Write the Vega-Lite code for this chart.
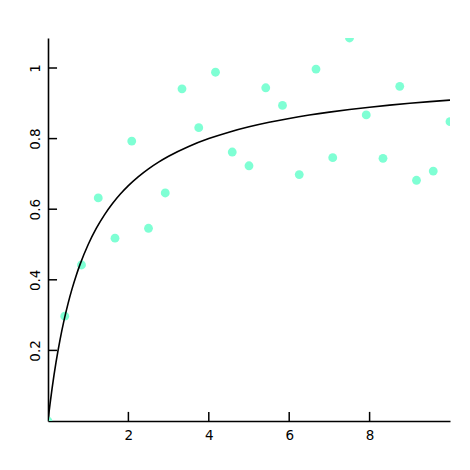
{
  "$schema": "https://vega.github.io/schema/vega-lite/v6.json",
  "width": 402,
  "height": 383,
  "autosize": "none",
  "padding": {"left": 48, "top": 38, "right": 20, "bottom": 49},
  "background": "white",
  "config": {
    "view": {"stroke": null},
    "font": "DejaVu Sans",
    "axis": {
      "domainColor": "black",
      "domainWidth": 1.6,
      "ticks": false,
      "grid": false,
      "labelColor": "black",
      "labelFont": "DejaVu Sans",
      "labelFontSize": 13.5,
      "title": null
    }
  },
  "datasets": {
    "pts": [
      {"x": 0.0, "y": 0.0},
      {"x": 0.4167, "y": 0.297},
      {"x": 0.8333, "y": 0.442},
      {"x": 1.25, "y": 0.632},
      {"x": 1.6667, "y": 0.518},
      {"x": 2.0833, "y": 0.793},
      {"x": 2.5, "y": 0.546},
      {"x": 2.9167, "y": 0.646},
      {"x": 3.3333, "y": 0.941},
      {"x": 3.75, "y": 0.831},
      {"x": 4.1667, "y": 0.988},
      {"x": 4.5833, "y": 0.762},
      {"x": 5.0, "y": 0.723},
      {"x": 5.4167, "y": 0.944},
      {"x": 5.8333, "y": 0.894},
      {"x": 6.25, "y": 0.698},
      {"x": 6.6667, "y": 0.997},
      {"x": 7.0833, "y": 0.746},
      {"x": 7.5, "y": 1.085},
      {"x": 7.9167, "y": 0.867},
      {"x": 8.3333, "y": 0.744},
      {"x": 8.75, "y": 0.948},
      {"x": 9.1667, "y": 0.682},
      {"x": 9.5833, "y": 0.708},
      {"x": 10.0, "y": 0.848}
    ],
    "curve": [
      {"x": 0, "y": 0},
      {"x": 0.025, "y": 0.02439},
      {"x": 0.05, "y": 0.04762},
      {"x": 0.1, "y": 0.09091},
      {"x": 0.15, "y": 0.13043},
      {"x": 0.2, "y": 0.16667},
      {"x": 0.3, "y": 0.23077},
      {"x": 0.4, "y": 0.28571},
      {"x": 0.5, "y": 0.33333},
      {"x": 0.6, "y": 0.375},
      {"x": 0.7, "y": 0.41176},
      {"x": 0.8, "y": 0.44444},
      {"x": 1.0, "y": 0.5},
      {"x": 1.2, "y": 0.54545},
      {"x": 1.4, "y": 0.58333},
      {"x": 1.6, "y": 0.61538},
      {"x": 1.8, "y": 0.64286},
      {"x": 2.0, "y": 0.66667},
      {"x": 2.25, "y": 0.69231},
      {"x": 2.5, "y": 0.71429},
      {"x": 2.75, "y": 0.73333},
      {"x": 3.0, "y": 0.75},
      {"x": 3.5, "y": 0.77778},
      {"x": 4.0, "y": 0.8},
      {"x": 4.5, "y": 0.81818},
      {"x": 5.0, "y": 0.83333},
      {"x": 5.5, "y": 0.84615},
      {"x": 6.0, "y": 0.85714},
      {"x": 6.5, "y": 0.86667},
      {"x": 7.0, "y": 0.875},
      {"x": 7.5, "y": 0.88235},
      {"x": 8.0, "y": 0.88889},
      {"x": 8.5, "y": 0.89474},
      {"x": 9.0, "y": 0.9},
      {"x": 9.5, "y": 0.90476},
      {"x": 10.0, "y": 0.90909}
    ],
    "xticks": [{"v": 2}, {"v": 4}, {"v": 6}, {"v": 8}],
    "yticks": [{"v": 0.2}, {"v": 0.4}, {"v": 0.6}, {"v": 0.8}, {"v": 1}]
  },
  "resolve": {"axis": {"x": "independent", "y": "independent"}},
  "layer": [
    {
      "data": {"name": "pts"},
      "mark": {"type": "circle", "size": 78, "color": "#7fffd4", "opacity": 1, "clip": true},
      "encoding": {
        "x": {"field": "x", "type": "quantitative", "scale": {"domain": [0, 10], "nice": false, "zero": false},
              "axis": {"orient": "bottom", "values": [2, 4, 6, 8], "labelPadding": 7, "format": "~g"}},
        "y": {"field": "y", "type": "quantitative", "scale": {"domain": [0, 1.085], "nice": false, "zero": false},
              "axis": {"orient": "left", "values": [0.2, 0.4, 0.6, 0.8, 1], "labelPadding": 6, "format": "~g", "labelAngle": -90}}
      }
    },
    {
      "data": {"name": "curve"},
      "mark": {"type": "line", "color": "black", "strokeWidth": 1.6, "interpolate": "monotone", "clip": true},
      "encoding": {
        "x": {"field": "x", "type": "quantitative", "axis": null},
        "y": {"field": "y", "type": "quantitative", "axis": null}
      }
    },
    {
      "data": {"name": "xticks"},
      "mark": {"type": "rule", "color": "black", "strokeWidth": 1.5},
      "encoding": {
        "x": {"field": "v", "type": "quantitative", "axis": null},
        "y": {"datum": 0, "type": "quantitative", "axis": null},
        "y2": {"datum": 0.0258}
      }
    },
    {
      "data": {"name": "yticks"},
      "mark": {"type": "rule", "color": "black", "strokeWidth": 1.5},
      "encoding": {
        "y": {"field": "v", "type": "quantitative", "axis": null},
        "x": {"datum": 0, "type": "quantitative", "axis": null},
        "x2": {"datum": 0.225}
      }
    }
  ]
}
